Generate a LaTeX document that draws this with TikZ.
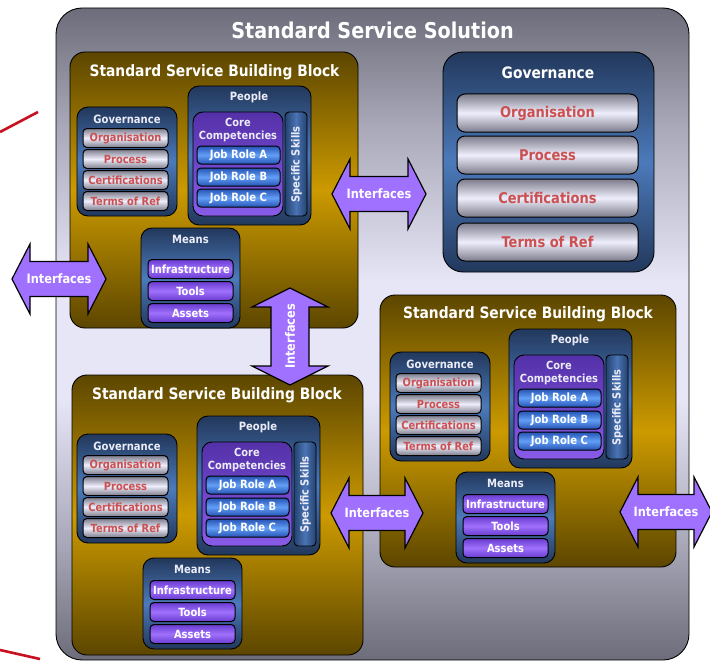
\documentclass[tikz,border=0pt]{standalone}
\usepackage{fontspec}
\setmainfont{DejaVu Sans}[FakeStretch=0.88]

% palette
\definecolor{ogray}{RGB}{108,108,122}
\definecolor{omid}{RGB}{168,168,184}
\definecolor{olight}{RGB}{230,230,246}
\definecolor{golddark}{RGB}{92,70,0}
\definecolor{gold}{RGB}{204,154,0}
\definecolor{navy}{RGB}{34,56,92}
\definecolor{navymid}{RGB}{76,122,186}
\definecolor{silver}{RGB}{124,124,140}
\definecolor{silverlight}{RGB}{238,238,252}
\definecolor{itemred}{RGB}{204,80,80}
\definecolor{purpdark}{RGB}{84,48,168}
\definecolor{purplight}{RGB}{136,92,232}
\definecolor{jobdark}{RGB}{38,84,180}
\definecolor{joblight}{RGB}{98,158,246}
\definecolor{meandark}{RGB}{104,60,208}
\definecolor{meanlight}{RGB}{160,112,252}
\definecolor{skilldark}{RGB}{36,66,112}
\definecolor{skilllight}{RGB}{74,116,180}
\definecolor{arrowfill}{RGB}{160,112,255}
\definecolor{titlewhite}{RGB}{236,236,248}
\definecolor{redline}{RGB}{200,16,32}

% background of the solution frame: grey at the edges, pale lavender in the middle
\pgfdeclareverticalshading{outershade}{100bp}{%
  color(0bp)=(ogray); color(25bp)=(ogray); color(34bp)=(omid);
  color(45bp)=(olight); color(54bp)=(olight); color(66bp)=(omid);
  color(75bp)=(ogray); color(100bp)=(ogray)}

\newcommand\fsz[2]{\fontsize{#1}{#2}\selectfont}

% rounded box given by its two corners: name, x1, y1, x2, y2, style, text
\newcommand\rbox[7]{%
  \node[#6, minimum width={(#4)-(#2)}, minimum height={(#5)-(#3)}]
    (#1) at ({((#2)+(#4))/2},{((#3)+(#5))/2}) {#7};}

% governance panel, top-left corner at (#2,#3)
\newcommand\govpanel[3]{%
  \rbox{#1}{#2}{#3}{#2+100}{#3+109}{bluebox}{}
  \node[paneltitle] (#1-t) at ({#2+50},{#3+12}) {Governance};
  \rbox{#1-org}{#2+6}{#3+21.5}{#2+91}{#3+40.5}{govitem}{Organisation}
  \rbox{#1-pro}{#2+6}{#3+42.5}{#2+91}{#3+61.5}{govitem}{Process}
  \rbox{#1-cer}{#2+6}{#3+63.5}{#2+91}{#3+82.5}{govitem}{Certifications}
  \rbox{#1-tor}{#2+6}{#3+84.5}{#2+91}{#3+103.5}{govitem}{Terms of Ref}}

% people panel, top-left corner at (#2,#3)
\newcommand\peoplepanel[3]{%
  \rbox{#1}{#2}{#3}{#2+123}{#3+139}{bluebox}{}
  \node[paneltitle] (#1-t) at ({#2+61},{#3+11}) {People};
  \rbox{#1-core}{#2+5}{#3+26}{#2+95}{#3+130}{corebox}{}
  \node[coretitle] (#1-ct) at ({#2+50},{#3+44}) {Core\\Competencies};
  \rbox{#1-ja}{#2+9}{#3+60}{#2+92}{#3+78}{jobitem}{Job Role A}
  \rbox{#1-jb}{#2+9}{#3+82}{#2+92}{#3+100}{jobitem}{Job Role B}
  \rbox{#1-jc}{#2+9}{#3+103}{#2+92}{#3+121}{jobitem}{Job Role C}
  \rbox{#1-sk}{#2+97}{#3+26}{#2+119}{#3+130}{skillbox}{}
  \node[skilltext] (#1-skt) at ({#2+108.5},{#3+78.5}) {Specific Skills};}

% means panel: name, x, y, height, centre of the first item below the top
\newcommand\meanspanel[5]{%
  \rbox{#1}{#2}{#3}{#2+99}{#3+#4}{bluebox}{}
  \node[paneltitle] (#1-t) at ({#2+49.5},{#3+11}) {Means};
  \rbox{#1-inf}{#2+7}{#3+#5-9.5}{#2+92}{#3+#5+9.5}{meanitem}{Infrastructure}
  \rbox{#1-too}{#2+7}{#3+#5+12.5}{#2+92}{#3+#5+31.5}{meanitem}{Tools}
  \rbox{#1-ass}{#2+7}{#3+#5+34.5}{#2+92}{#3+#5+53.5}{meanitem}{Assets}}

% horizontal double arrow: name, cx, cy, half length, half head, half shaft, head length
\newcommand\harrow[7]{%
  \draw[ifarrow] ({#2-#4},{#3}) -- ({#2-#4+#7},{#3-#5}) -- ({#2-#4+#7},{#3-#6})
    -- ({#2+#4-#7},{#3-#6}) -- ({#2+#4-#7},{#3-#5}) -- ({#2+#4},{#3})
    -- ({#2+#4-#7},{#3+#5}) -- ({#2+#4-#7},{#3+#6}) -- ({#2-#4+#7},{#3+#6})
    -- ({#2-#4+#7},{#3+#5}) -- cycle;
  \node[iftext] (#1) at (#2,#3) {Interfaces};}

% vertical double arrow: same arguments, text turned upright
\newcommand\varrow[7]{%
  \draw[ifarrow] ({#2},{#3-#4}) -- ({#2+#5},{#3-#4+#7}) -- ({#2+#6},{#3-#4+#7})
    -- ({#2+#6},{#3+#4-#7}) -- ({#2+#5},{#3+#4-#7}) -- ({#2},{#3+#4})
    -- ({#2-#5},{#3+#4-#7}) -- ({#2-#6},{#3+#4-#7}) -- ({#2-#6},{#3-#4+#7})
    -- ({#2-#5},{#3-#4+#7}) -- cycle;
  \node[iftext, rotate=90] (#1) at (#2,#3) {Interfaces};}

\begin{document}
\begin{tikzpicture}[x=1pt, y=-1pt,
  every node/.style={inner sep=0pt, outer sep=0pt},
  roundframe/.style={draw=black, line width=0.9pt, rectangle, rounded corners=#1},
  outerbox/.style={roundframe=26, shading=outershade},
  goldbox/.style={roundframe=15, top color=golddark, bottom color=golddark, middle color=gold},
  bluebox/.style={roundframe=11, top color=navy, bottom color=navy, middle color=navymid},
  biggov/.style={roundframe=20, top color=navy, bottom color=navy, middle color=navymid},
  govitem/.style={roundframe=4, line width=1pt, top color=silver, bottom color=silver,
    middle color=silverlight, text=itemred, font=\bfseries\fsz{11.2}{13}},
  biggovitem/.style={roundframe=8, line width=1pt, top color=silver, bottom color=silver,
    middle color=silverlight, text=itemred, font=\bfseries\fsz{14.8}{17}},
  corebox/.style={roundframe=10, top color=purpdark, bottom color=purplight},
  jobitem/.style={roundframe=4, line width=1pt, top color=jobdark, bottom color=jobdark,
    middle color=joblight, text=white, font=\bfseries\fsz{11.4}{13}},
  meanitem/.style={roundframe=4, line width=1pt, top color=meandark, bottom color=meandark,
    middle color=meanlight, text=white, font=\bfseries\fsz{11.3}{13}},
  skillbox/.style={roundframe=4, left color=skilldark, right color=skilldark,
    middle color=skilllight},
  skilltext/.style={rotate=90, text=titlewhite, font=\bfseries\fsz{11.2}{13}},
  paneltitle/.style={text=titlewhite, font=\bfseries\fsz{11.4}{13}},
  coretitle/.style={text=titlewhite, align=center, font=\bfseries\fsz{11.2}{12.5}},
  blocktitle/.style={text=white, font=\bfseries\fsz{15.7}{18}},
  maintitle/.style={text=white, font=\bfseries\fsz{21.8}{26}},
  ifarrow/.style={draw=black, line width=1.2pt, fill=arrowfill, line join=miter},
  iftext/.style={text=white, font=\bfseries\fsz{12.9}{15}},
  redstroke/.style={draw=redline, line width=2.6pt}]

\useasboundingbox (0,0) rectangle (710,661);

% solution frame
\rbox{solution}{56}{8}{689}{660}{outerbox}{}
\node[maintitle] (solution-t) at (372.5,30) {Standard Service Solution};

% building block, top left
\rbox{blockA}{70}{52}{358}{328}{goldbox}{}
\node[blocktitle] (blockA-t) at (214.5,72) {Standard Service Building Block};
\govpanel{blockA-gov}{77}{107}
\peoplepanel{blockA-ppl}{188}{86}
\meanspanel{blockA-mns}{141}{228}{100}{41}

% building block, right
\rbox{blockB}{380}{295}{676}{567}{goldbox}{}
\node[blocktitle] (blockB-t) at (528,314) {Standard Service Building Block};
\govpanel{blockB-gov}{390}{352}
\peoplepanel{blockB-ppl}{509}{329}
\meanspanel{blockB-mns}{456}{472}{91}{32}

% building block, bottom left
\rbox{blockC}{72}{375}{363}{655}{goldbox}{}
\node[blocktitle] (blockC-t) at (217,395) {Standard Service Building Block};
\govpanel{blockC-gov}{77}{434}
\peoplepanel{blockC-ppl}{197}{416}
\meanspanel{blockC-mns}{143}{558}{91}{32}

% shared governance
\rbox{gov}{443}{52}{654}{272}{biggov}{}
\node[blocktitle] (gov-t) at (548,73) {Governance};
\rbox{gov-org}{457}{94}{638}{132}{biggovitem}{Organisation}
\rbox{gov-pro}{457}{136}{638}{174}{biggovitem}{Process}
\rbox{gov-cer}{457}{179}{638}{217}{biggovitem}{Certifications}
\rbox{gov-tor}{457}{223}{638}{261}{biggovitem}{Terms of Ref}

% interfaces
\harrow{ifLeft}{59}{279}{47}{35}{17.5}{18}
\harrow{ifTop}{379}{194}{47}{35}{17.5}{18}
\varrow{ifMid}{290}{336.5}{48.5}{38}{19}{19}
\harrow{ifLow}{377}{513}{46}{35}{17.5}{18}
\harrow{ifRight}{666}{512}{46}{35}{17.5}{18}

% red strokes at the left edge
\coordinate (redA1) at (0,132);
\coordinate (redA2) at (38,112);
\coordinate (redB1) at (0,650);
\coordinate (redB2) at (40,659);
\draw[redstroke] (redA1) -- (redA2);
\draw[redstroke] (redB1) -- (redB2);
\end{tikzpicture}
\end{document}
